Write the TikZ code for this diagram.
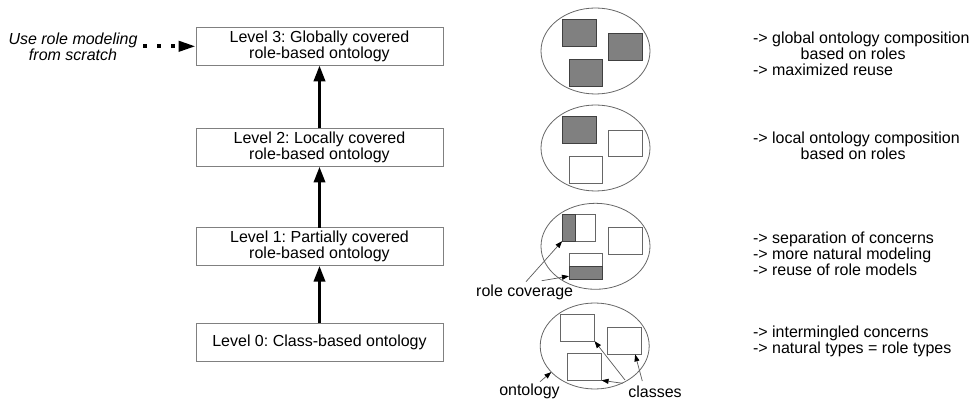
\documentclass[tikz,border=0pt]{standalone}
\usepackage{fontspec}
\setmainfont{Liberation Sans}
\usetikzlibrary{arrows.meta,shapes.geometric}
\frenchspacing
\begin{document}
\begin{tikzpicture}[x=1pt,y=-1pt,
  every node/.style={font=\fontsize{16}{16}\selectfont, outer sep=0pt},
  level/.style={draw=black!50, line width=0.9pt, minimum width=247pt, minimum height=38pt, align=center, inner sep=0pt},
  onto/.style={draw=black!60, line width=0.8pt, ellipse, minimum width=109pt, minimum height=86pt, inner sep=0pt},
  cls/.style={draw=black!60, line width=0.9pt, minimum width=33.7pt, minimum height=26.7pt, inner sep=0pt},
  role/.style={cls, fill=black!50, draw=black!75},
  partfill/.style={fill=black!50, draw=black!75, line width=0.9pt},
  up/.style={line width=3.5pt, -{Triangle[length=16pt,width=11pt]}},
  pointer/.style={draw=black!65, line width=0.7pt, -{Triangle[length=7pt,width=5pt,color=black]}},
  note/.style={anchor=west, align=left, inner sep=0pt},
  label/.style={inner sep=0pt},
]
\useasboundingbox (0,0) rectangle (972,403);

% ---- levels of role coverage
\node[level] (l3) at (319.5,46.3)  {Level 3: Globally covered\\role-based ontology};
\node[level] (l2) at (319.5,147.5) {Level 2: Locally covered\\role-based ontology};
\node[level] (l1) at (319.5,246.7) {Level 1: Partially covered\\role-based ontology};
\node[level] (l0) at (319.5,342.2) {Level 0: Class-based ontology};

\draw[up] (l0.north) -- (l1.south);
\draw[up] (l1.north) -- (l2.south);
\draw[up] (l2.north) -- (l3.south);

\node[align=center, inner sep=2pt, font=\fontsize{16}{16}\selectfont\itshape] (scratch) at (73,46.3)
  {Use role modeling\\from scratch};
\draw[line width=4pt, dash pattern=on 4pt off 10pt, shorten <=3.7pt,
      -{Triangle[length=17.5pt,width=10pt]}] (scratch.east) -- (l3.west);

% ---- ontologies with their classes
\node[onto] (e3) at (595.5,51) {};
\node[role] (a3) at (579.2,33.3) {};
\node[role] (b3) at (625.7,47) {};
\node[role] (c3) at (585.8,73.3) {};

\node[onto] (e2) at (595.5,148) {};
\node[role] (a2) at (579.2,130) {};
\node[cls]  (b2) at (625.7,143.5) {};
\node[cls]  (c2) at (585.8,169.7) {};

\node[onto] (e1) at (595.5,246.3) {};
\node[cls]  (a1) at (579,227.8) {};
\node[cls]  (b1) at (625.7,241) {};
\node[cls]  (c1) at (585.8,266.5) {};
\filldraw[partfill] (a1.south west) rectangle ([xshift=13pt]a1.north west);
\filldraw[partfill] (c1.south west) rectangle (c1.east);

\node[onto] (e0) at (594.7,346) {};
\node[cls]  (a0) at (577.7,327.8) {};
\node[cls]  (b0) at (624.3,341) {};
\node[cls]  (c0) at (584.7,367) {};

% ---- annotations
\node[label] (rc) at (524.7,292.7) {role coverage};
\coordinate (rc1) at (526,281.7);
\coordinate (rc2) at (541.7,280.7);
\draw[pointer] (rc1) -- (a1.south west);
\draw[pointer] (rc2) -- ([yshift=3.7pt]c1.south west);

\node[label] (ont) at (529.5,391.7) {ontology};
\coordinate (ont1) at (540,381.7);
\draw[pointer] (ont1) -- (e0.211);

\node[label] (cl) at (655,391.7) {classes};
\coordinate (cl1) at (625,380);
\coordinate (cl2) at (622.7,383.3);
\coordinate (cl3) at (642.3,381);
\draw[pointer] (cl1) -- (a0.south east);
\draw[pointer] (cl2) -- (c0.south east);
\draw[pointer] (cl3) -- ([xshift=-6pt]b0.south east);

% ---- properties of each level
\node[note] (t3) at (753,54.2) {-> global ontology composition\\\hspace*{47.7pt}based on roles\\-> maximized reuse};
\node[note] (t2) at (753,146.2) {-> local ontology composition\\\hspace*{47.7pt}based on roles};
\node[note] (t1) at (753,253.8) {-> separation of concerns\\-> more natural modeling\\-> reuse of role models};
\node[note] (t0) at (753,341.5) {-> intermingled concerns\\-> natural types = role types};
\end{tikzpicture}
\end{document}
